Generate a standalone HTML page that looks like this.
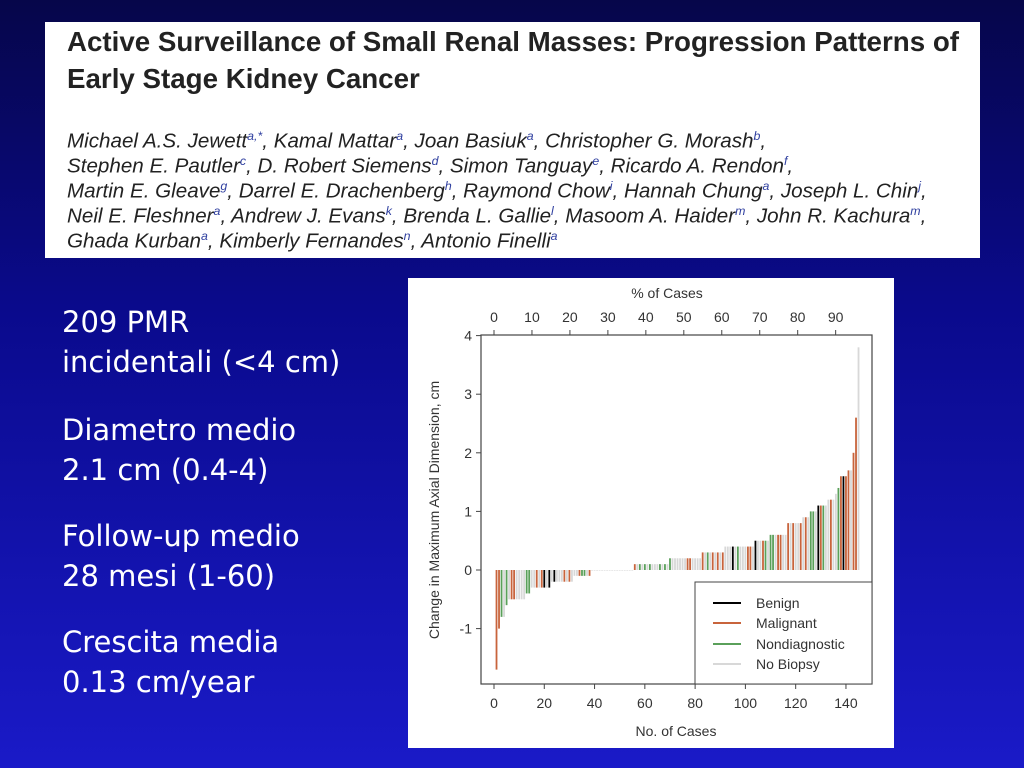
<!DOCTYPE html>
<html><head><meta charset="utf-8"><style>
body{margin:0;width:1024px;height:768px;overflow:hidden;background:linear-gradient(#06064a 0%,#0a0a8c 40%,#1a1ac8 100%);font-family:"Liberation Sans",sans-serif;position:relative}
#banner{position:absolute;left:45px;top:22px;width:935px;height:236px;background:#fff}
.t{position:absolute;left:22px;font-weight:bold;font-size:28px;color:#222;white-space:nowrap;transform-origin:0 0;transform:scaleX(0.99)}
.a{position:absolute;left:22px;font-style:italic;font-size:20px;color:#222;white-space:nowrap;transform-origin:0 0;transform:scaleX(1.03)}
.a sup{color:#3040a0;font-size:12px}
.s{position:absolute;left:62px;color:#fff;font-family:"DejaVu Sans",sans-serif;font-size:29px;line-height:40px;white-space:nowrap}
</style></head><body>
<div id="banner">
<div class="t" style="top:4px">Active Surveillance of Small Renal Masses: Progression Patterns of</div>
<div class="t" style="top:41px">Early Stage Kidney Cancer</div>
<div class="a" style="top:107px">Michael A.S. Jewett<sup>a,*</sup>, Kamal Mattar<sup>a</sup>, Joan Basiuk<sup>a</sup>, Christopher G. Morash<sup>b</sup>,</div>
<div class="a" style="top:132px">Stephen E. Pautler<sup>c</sup>, D. Robert Siemens<sup>d</sup>, Simon Tanguay<sup>e</sup>, Ricardo A. Rendon<sup>f</sup>,</div>
<div class="a" style="top:157px">Martin E. Gleave<sup>g</sup>, Darrel E. Drachenberg<sup>h</sup>, Raymond Chow<sup>i</sup>, Hannah Chung<sup>a</sup>, Joseph L. Chin<sup>j</sup>,</div>
<div class="a" style="top:182px">Neil E. Fleshner<sup>a</sup>, Andrew J. Evans<sup>k</sup>, Brenda L. Gallie<sup>l</sup>, Masoom A. Haider<sup>m</sup>, John R. Kachura<sup>m</sup>,</div>
<div class="a" style="top:207px">Ghada Kurban<sup>a</sup>, Kimberly Fernandes<sup>n</sup>, Antonio Finelli<sup>a</sup></div>
</div>
<div class="s" style="top:302px">209 PMR<br>incidentali (&lt;4 cm)</div>
<div class="s" style="top:410px">Diametro medio<br>2.1 cm (0.4-4)</div>
<div class="s" style="top:516px">Follow-up medio<br>28 mesi (1-60)</div>
<div class="s" style="top:622px">Crescita media<br>0.13 cm/year</div>

<svg id="chart" style="position:absolute;left:408px;top:278px" width="486" height="470" font-family="Liberation Sans, sans-serif" fill="#333">
<rect x="0" y="0" width="486" height="470" fill="#fff"/>
<g id="bars"></g>
<rect x="73" y="57" width="391" height="349" fill="none" stroke="#444" stroke-width="1.2"/>
<g id="axes"></g>
<text x="259" y="20" text-anchor="middle" font-size="14">% of Cases</text>
<text x="268" y="458" text-anchor="middle" font-size="14">No. of Cases</text>
<text transform="translate(31,232) rotate(-90)" text-anchor="middle" font-size="14">Change in Maximum Axial Dimension, cm</text>
<g>
<rect x="287" y="304" width="177" height="102" fill="#fff" stroke="#444" stroke-width="1"/>
<line x1="305" x2="333" y1="325" y2="325" stroke="#000" stroke-width="2"/><text x="348" y="330" font-size="14">Benign</text>
<line x1="305" x2="333" y1="345" y2="345" stroke="#c8643c" stroke-width="2"/><text x="348" y="350" font-size="14">Malignant</text>
<line x1="305" x2="333" y1="366" y2="366" stroke="#5aa05a" stroke-width="2"/><text x="348" y="371" font-size="14">Nondiagnostic</text>
<line x1="305" x2="333" y1="386" y2="386" stroke="#d8d8d8" stroke-width="2"/><text x="348" y="391" font-size="14">No Biopsy</text>
</g>
</svg>
<script>
const values=[-1.7,-1.0,-0.8,-0.8,-0.6,-0.5,-0.5,-0.5,-0.5,-0.5,-0.5,-0.5,-0.4,-0.4,-0.3,-0.3,-0.3,-0.3,-0.3,-0.3,-0.3,-0.3,-0.2,-0.2,-0.2,-0.2,-0.2,-0.2,-0.2,-0.2,-0.2,-0.1,-0.1,-0.1,-0.1,-0.1,-0.1,-0.1,
0,0,0,0,0,0,0,0,0,0,0,0,0,0,0,0,0,
0.1,0.1,0.1,0.1,0.1,0.1,0.1,0.1,0.1,0.1,0.1,0.1,0.1,0.1,
0.2,0.2,0.2,0.2,0.2,0.2,0.2,0.2,0.2,0.2,0.2,0.2,0.2,
0.3,0.3,0.3,0.3,0.3,0.3,0.3,0.3,0.3,
0.4,0.4,0.4,0.4,0.4,0.4,0.4,0.4,0.4,0.4,0.4,0.4,
0.5,0.5,0.5,0.5,0.5,0.5,
0.6,0.6,0.6,0.6,0.6,0.6,0.6,
0.8,0.8,0.8,0.8,0.8,0.8,0.9,0.9,0.9,1.0,1.0,1.0,1.1,1.1,1.1,1.1,1.2,1.2,1.2,1.3,1.4,1.6,1.6,1.6,1.7,1.7,2.0,2.6,3.8];
const biopsy="MMNGNGMMGGGGNNGGMGMBGBGBGGGMGMGGGMNNGM"+"GGGGGGGGGGGGGGGGG"+"MGNGNGNGGGNGNG"+"NGGGGGGMMGGGG"+"MGNGMGMGM"+"GGGBGNGGGMMG"+"BGGMNG"+"NNGMMGG"+"MGMGGMGMGNNGBMNGGMGGNMBMMGMMG";
const yTicks=[-1,0,1,2,3,4];
const xTicks=[0,20,40,60,80,100,120,140];
const pctTicks=[0,10,20,30,40,50,60,70,80,90];
const pctBase=151;
const colors={B:"#000",M:"#c8643c",N:"#5aa05a",G:"#d8d8d8"};
const NS="http://www.w3.org/2000/svg";
const X=n=>86+n*2.514, Y=v=>292-v*58.6;
const bars=document.getElementById('bars'), axes=document.getElementById('axes');
values.forEach((v,i)=>{const r=document.createElementNS(NS,'rect');


const y0=Y(0),y1=Y(v);r.setAttribute('x',X(i+1)-0.9);r.setAttribute('width',1.8);
r.setAttribute('y',Math.min(y0,y1));r.setAttribute('height',Math.max(Math.abs(y1-y0),0.6));
r.setAttribute('fill',colors[biopsy[i]]||"#d8d8d8");bars.appendChild(r);});
function line(x1,y1,x2,y2){const l=document.createElementNS(NS,'line');l.setAttribute('x1',x1);l.setAttribute('y1',y1);l.setAttribute('x2',x2);l.setAttribute('y2',y2);l.setAttribute('stroke','#444');axes.appendChild(l);return l;}
function txt(x,y,s,anchor){const t=document.createElementNS(NS,'text');t.setAttribute('x',x);t.setAttribute('y',y);t.setAttribute('font-size','14');t.setAttribute('text-anchor',anchor);t.textContent=s;axes.appendChild(t);return t;}
yTicks.forEach(v=>{line(68,Y(v),73,Y(v));const t=txt(64,Y(v)+5,v,'end');

});
xTicks.forEach(v=>{line(X(v),406,X(v),411);const t=txt(X(v),430,v,'middle');

});
pctTicks.forEach(p=>{const xx=X(p/100*pctBase);line(xx,52,xx,57);const t=txt(xx,44,p,'middle');

});
</script>
</body></html>
